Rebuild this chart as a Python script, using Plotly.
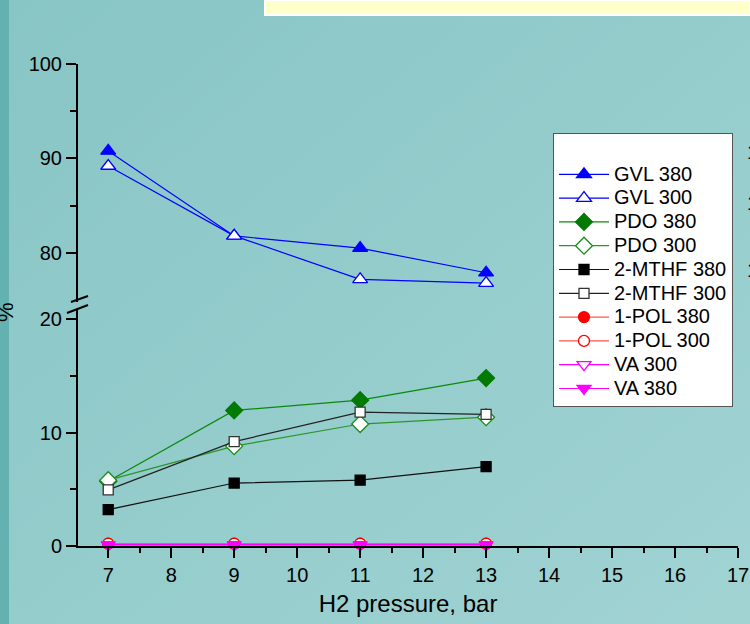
import base64
import plotly.graph_objects as go

W, H = 750, 624

pressure = [7, 9, 11, 13]
gvl_380 = [90.8, 81.8, 80.5, 77.9]
gvl_300 = [89.2, 81.8, 77.2, 76.8]
pdo_380 = [5.7, 11.95, 12.85, 14.8]
pdo_300 = [5.8, 8.8, 10.75, 11.35]
mthf_380 = [3.2, 5.55, 5.8, 7.0]
mthf_300 = [4.95, 9.2, 11.8, 11.6]
pol_380 = [0.2, 0.2, 0.2, 0.2]
pol_300 = [0.2, 0.2, 0.2, 0.2]
va_300 = [0.12, 0.12, 0.12, 0.12]
va_380 = [0.1, 0.1, 0.1, 0.1]

x_ticks = list(range(7, 18))
y_low_ticks = [0, 10, 20]
y_up_ticks = [80, 90, 100]


def px(x):
    return x / W


def py(y):
    return 1 - y / H


FONT = "Liberation Sans, Arial, sans-serif"


def nm(s):
    return '<span style="font-size:20px">' + s + '</span>'


series = [
    ("GVL 380", gvl_380, "y2", "triangle-up", "#0000ff", "#0000ff", "#0000ff", 13),
    ("GVL 300", gvl_300, "y2", "triangle-up", "#ffffff", "#0000ff", "#0000ff", 13),
    ("PDO 380", pdo_380, "y", "diamond", "#007a00", "#007a00", "#0a8a0a", 13),
    ("PDO 300", pdo_300, "y", "diamond", "#ffffff", "#1a8a1a", "#2a962a", 13),
    ("2-MTHF 380", mthf_380, "y", "square", "#000000", "#000000", "#111111", 10),
    ("2-MTHF 300", mthf_300, "y", "square", "#ffffff", "#333333", "#222222", 10),
    ("1-POL 380", pol_380, "y", "circle", "#ff0000", "#ff0000", "#ff5555", 11),
    ("1-POL 300", pol_300, "y", "circle", "#ffffff", "#ff0000", "#ff5555", 11),
    ("VA 300", va_300, "y", "triangle-down", "#ffffff", "#ff00ff", "#ff00ff", 12),
    ("VA 380", va_380, "y", "triangle-down", "#ff00ff", "#ff00ff", "#ff00ff", 12),
]

fig = go.Figure()
for name, vals, yax, sym, fill, edge, lcol, size in series:
    fig.add_trace(go.Scatter(
        x=pressure, y=vals, yaxis=yax, name=nm(name), mode="lines+markers",
        line=dict(color=lcol, width=1.2),
        marker=dict(symbol=sym, size=size, color=fill, line=dict(color=edge, width=1.3)),
        cliponaxis=False,
    ))

svg = ('<svg xmlns="http://www.w3.org/2000/svg" width="750" height="624">'
       '<defs><linearGradient id="g" x1="0" y1="0" x2="1" y2="1">'
       '<stop offset="0" stop-color="#88c5c5"/><stop offset="1" stop-color="#a1d3d3"/>'
       '</linearGradient></defs><rect width="750" height="624" fill="url(#g)"/></svg>')
src = "data:image/svg+xml;base64," + base64.b64encode(svg.encode()).decode()

axis_common = dict(
    showline=True, linecolor="black", linewidth=2,
    ticks="outside", ticklen=10, tickwidth=2, tickcolor="black",
    showgrid=False, zeroline=False, automargin=False,
    tickfont=dict(family=FONT, size=20, color="black"),
)

fig.update_layout(
    template="none",
    width=W, height=H,
    margin=dict(l=0, r=0, t=0, b=0, pad=0),
    paper_bgcolor="#94cccc",
    plot_bgcolor="rgba(0,0,0,0)",
    images=[dict(source=src, xref="paper", yref="paper", x=0, y=1, sizex=1, sizey=1,
                 sizing="stretch", xanchor="left", yanchor="top", layer="below")],
    xaxis=dict(
        domain=[px(78), px(738)], range=[6.52, 17], anchor="y",
        tickvals=x_ticks, ticktext=[str(v) for v in x_ticks],
        minor=dict(dtick=0.5, tick0=6.5, ticks="outside", ticklen=5, tickwidth=2, tickcolor="black"),
        title=dict(text="H2 pressure, bar", font=dict(family=FONT, size=24, color="black"), standoff=10),
        **axis_common,
    ),
    yaxis=dict(
        domain=[py(546), py(310)], range=[0, 20.8], anchor="x",
        tickvals=y_low_ticks,
        minor=dict(tickvals=[5, 15], ticks="outside", ticklen=6, tickwidth=2, tickcolor="black"),
        **axis_common,
    ),
    yaxis2=dict(
        domain=[py(302), py(64)], range=[74.8, 100], anchor="x",
        tickvals=y_up_ticks,
        minor=dict(tickvals=[85, 95], ticks="outside", ticklen=6, tickwidth=2, tickcolor="black"),
        **axis_common,
    ),
    legend=dict(
        x=px(553), y=py(133), xanchor="left", yanchor="top",
        bgcolor="white", bordercolor="#555555", borderwidth=1,
        font=dict(family=FONT, size=16, color="black"),
        title=dict(text=" ", font=dict(size=18)),
        itemwidth=50,
    ),
    showlegend=True,
    shapes=[
        dict(type="rect", xref="paper", yref="paper", x0=px(265), x1=1.0, y0=py(15), y1=1.0,
             fillcolor="#ffffcc", line=dict(color="white", width=2), layer="above"),
        dict(type="rect", xref="paper", yref="paper", x0=0, x1=px(9), y0=0, y1=1,
             fillcolor="#64b1b1", line=dict(width=0), layer="above"),
        dict(type="line", xref="paper", yref="paper", x0=px(71), y0=py(302), x1=px(88), y1=py(296),
             line=dict(color="black", width=2)),
        dict(type="line", xref="paper", yref="paper", x0=px(67), y0=py(313), x1=px(88), y1=py(305),
             line=dict(color="black", width=2)),
    ],
    annotations=[
        dict(text="%", xref="paper", yref="paper", x=px(5), y=py(312), textangle=-90,
             showarrow=False, font=dict(family=FONT, size=22, color="black"),
             xanchor="center", yanchor="middle"),
    ] + [
        dict(text="1", xref="paper", yref="paper", x=px(745), y=py(yy), showarrow=False,
             xanchor="left", yanchor="middle", font=dict(family=FONT, size=20, color="black"))
        for yy in [152, 203, 270]
    ],
)

fig.write_html("out.html")
